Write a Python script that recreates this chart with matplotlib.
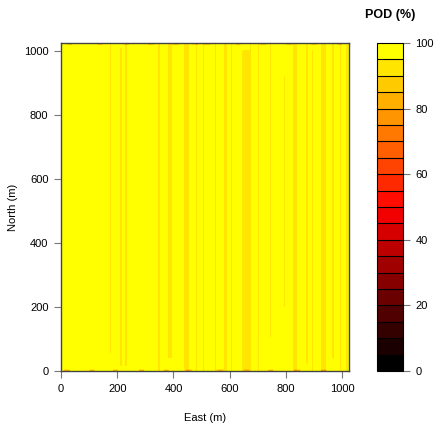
import numpy as np
import matplotlib
matplotlib.use("Agg")
import matplotlib.pyplot as plt
from matplotlib.colors import LinearSegmentedColormap, ListedColormap, BoundaryNorm

plt.rcParams['font.family'] = ['Liberation Sans', 'DejaVu Sans']

# ---- data ----
x_extent = 1024
y_extent = 1024
base_pod = 98.5

# vertical stripes: centre east (m), width (m), POD (%), north start, north end
stripe_x = [84, 176, 211, 232, 297, 348, 387, 408, 447, 465, 483, 507, 550, 586, 607, 655, 675,
            702, 745, 795, 831, 877, 894, 934, 969, 994, 1015]
stripe_w = [6, 14, 10, 12, 5, 14, 18, 6, 22, 8, 8, 8, 8, 12, 8, 28, 8,
            8, 6, 6, 20, 10, 10, 22, 10, 6, 10]
stripe_v = [91, 92.5, 92.5, 92, 93, 92.5, 93.5, 90, 92.5, 92.5, 90, 90, 92.5, 92.5, 90, 93, 92.5,
            91, 93, 92.5, 92.5, 92.5, 92, 92.5, 92.5, 90, 91]
stripe_y0 = [930, 56, 10, 10, 180, 0, 40, 0, 0, 0, 0, 0, 0, 0, 0, 0, 0,
             0, 100, 200, 0, 20, 0, 0, 40, 0, 0]
stripe_y1 = [1024, 1024, 1010, 1024, 230, 1024, 1024, 1024, 1024, 1024, 1024, 1024, 1024, 1024, 1024, 1000, 1024,
             1024, 1024, 920, 1024, 1024, 1000, 1024, 1024, 1024, 1024]

# low-POD spots on the northern and southern boundary rows
top_edge_x = [30, 140, 235, 320, 410, 480, 520, 630, 720, 810, 900, 990]
top_edge_v = [40, 45, 40, 45, 40, 50, 45, 40, 45, 40, 45, 40]
bot_edge_x = [20, 110, 195, 285, 375, 455, 565, 660, 745, 840, 935]
bot_edge_v = [70, 70, 70, 70, 70, 70, 70, 70, 70, 70, 70]

levels = list(range(0, 105, 5))
cbar_ticks = [0, 20, 40, 60, 80, 100]
axis_ticks = [0, 200, 400, 600, 800, 1000]

# ---- build grid ----
gx = np.arange(0, x_extent + 1, 4.0)
gy = np.arange(0, y_extent + 1, 8.0)
Z = np.full((gy.size, gx.size), base_pod)
for xc, w, v, y0, y1 in zip(stripe_x, stripe_w, stripe_v, stripe_y0, stripe_y1):
    cols = np.abs(gx - xc) <= w / 2.0
    if not cols.any():
        cols = np.abs(gx - xc) == np.abs(gx - xc).min()
    rows = (gy >= y0) & (gy <= y1)
    Z[np.ix_(rows, cols)] = v
for xc, v in zip(top_edge_x, top_edge_v):
    cols = np.abs(gx - xc) <= 12
    Z[-1, cols] = v
for xc, v in zip(bot_edge_x, bot_edge_v):
    cols = np.abs(gx - xc) <= 12
    Z[0, cols] = v

base = LinearSegmentedColormap.from_list("hotyel", ["black", "red", "yellow"])
cols20 = [base(i / 19.0) for i in range(20)]
cmap = ListedColormap(cols20)
norm = BoundaryNorm(levels, cmap.N)

fig = plt.figure(figsize=(4.38, 4.28), dpi=100)
ax = fig.add_axes([61 / 438, 1 - 371 / 428, 288 / 438, 328 / 428])
cs = ax.contourf(gx, gy, Z, levels=levels, cmap=cmap, norm=norm)
cs.set_edgecolor('face')
cs.set_linewidth(0.2)
ax.set_xlim(0, x_extent)
ax.set_ylim(0, y_extent)
ax.set_xticks(axis_ticks)
ax.set_yticks(axis_ticks)
ax.tick_params(direction='out', length=5, width=0.8, color='#777777', labelsize=8, pad=4)
for s in ax.spines.values():
    s.set_color('#444444')
    s.set_linewidth(1.0)
ax.set_xlabel("East (m)", fontsize=8, labelpad=14)
ax.set_ylabel("North (m)", fontsize=8, labelpad=4)

cax = fig.add_axes([377 / 438, 1 - 371 / 428, 26 / 438, 328 / 428])
cb = fig.colorbar(cs, cax=cax, drawedges=True, ticks=cbar_ticks)
cb.minorticks_off()
cb.dividers.set_color('black')
cb.dividers.set_linewidth(0.8)
cb.outline.set_color('black')
cb.outline.set_linewidth(0.8)
cax.tick_params(direction='out', length=5, width=0.8, color='#777777', labelsize=8, pad=4)
fig.text(390 / 438, 1 - 15 / 428, "POD (%)", fontsize=9, fontweight='bold', ha='center', va='center')

fig.savefig("out.png", dpi=100)
